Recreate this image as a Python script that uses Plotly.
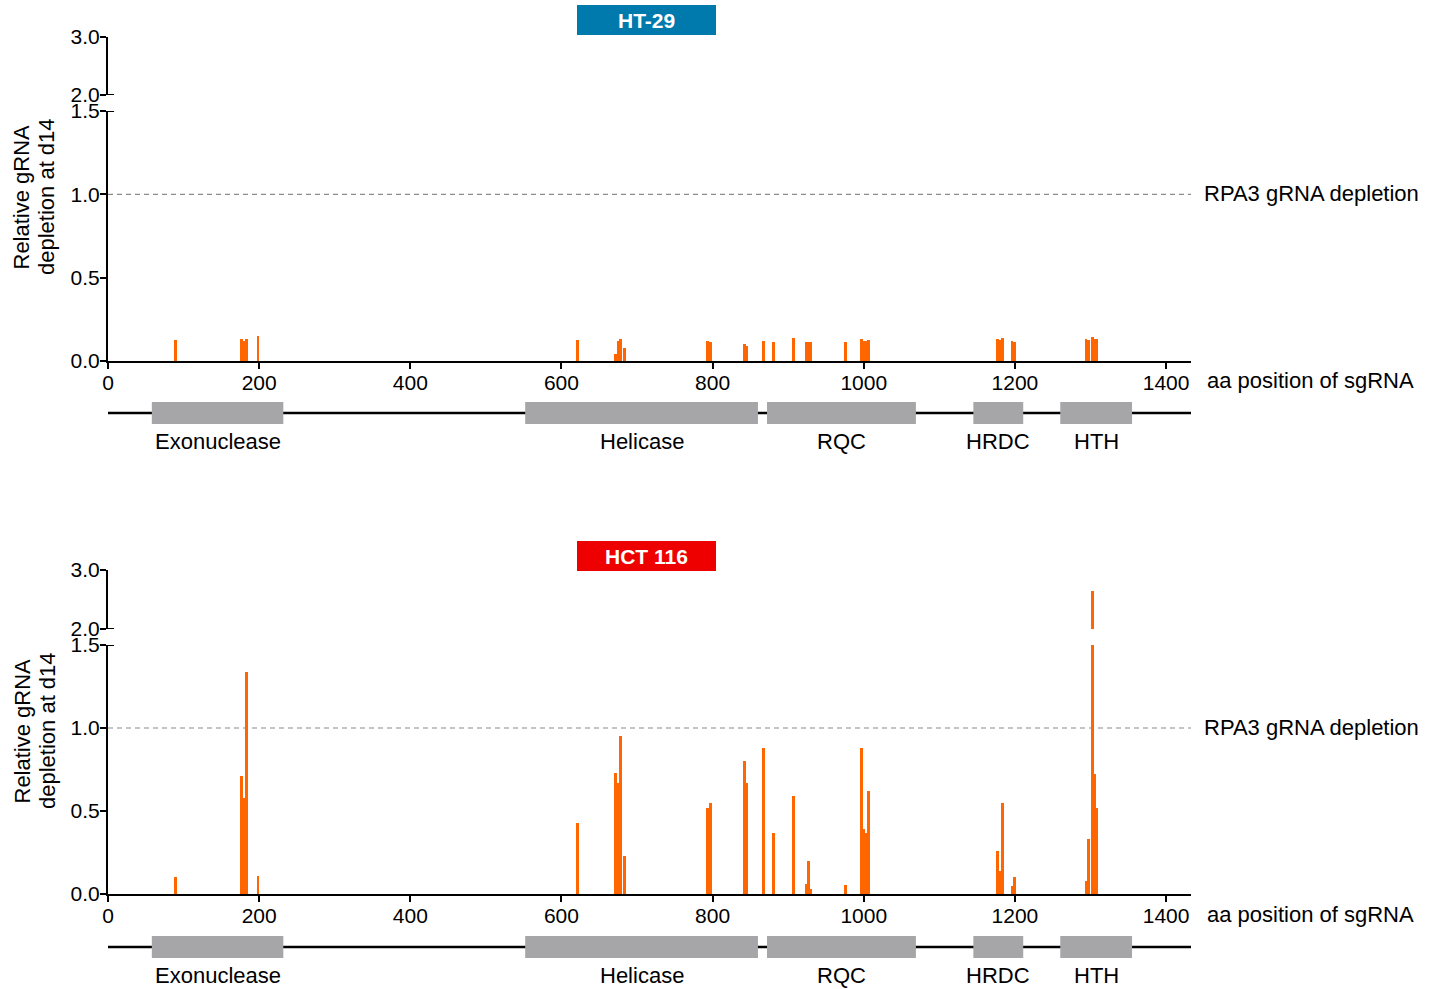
import plotly.graph_objects as go

W, H = 1438, 989

# ---------------- data ----------------
positions = [89, 176.4, 180, 183.3, 198.5, 621.3, 671.6, 674.9, 678.2, 683.5,
             793.3, 797.3, 842.3, 845.6, 867.4, 880.6, 907, 923.6, 926.9, 930.2,
             975.9, 997, 1000.4, 1003, 1006.3, 1177, 1180.4, 1183.7, 1196.2, 1199.5,
             1294, 1297.5, 1302.8, 1306.1, 1308.7]
ht29 = [0.126, 0.13, 0.12, 0.13, 0.15, 0.126, 0.04, 0.12, 0.13, 0.08,
        0.12, 0.115, 0.10, 0.09, 0.12, 0.115, 0.14, 0.115, 0.115, 0.115,
        0.115, 0.13, 0.12, 0.12, 0.125, 0.13, 0.125, 0.14, 0.12, 0.115,
        0.13, 0.125, 0.145, 0.13, 0.13]
hct116 = [0.10, 0.71, 0.58, 1.34, 0.11, 0.43, 0.73, 0.67, 0.95, 0.23,
          0.52, 0.55, 0.80, 0.67, 0.88, 0.37, 0.59, 0.06, 0.20, 0.03,
          0.055, 0.88, 0.39, 0.37, 0.62, 0.26, 0.14, 0.55, 0.05, 0.10,
          0.08, 0.33, 2.64, 0.72, 0.52]

domain_names = ["Exonuclease", "Helicase", "RQC", "HRDC", "HTH"]
domain_start = [58, 552, 872, 1145, 1260]
domain_end = [232, 860, 1069, 1211, 1355]

x_ticks = [0, 200, 400, 600, 800, 1000, 1200, 1400]
y_low_ticks = [0, 0.5, 1.0, 1.5]
y_high_ticks = [2.0, 3.0]
panels = ["HT-29", "HCT 116"]
panel_colors = ["#0079AD", "#EE0000"]
threshold = 1.0
x_max = 1433

# ---------------- helpers ----------------
def py(p):
    return 1 - p / H

def px(p):
    return p / W

FONT = "Liberation Sans, Arial, sans-serif"
BAR_COLOR = "#FF6600"
BAR_W = 3.5
LABEL_SIZE = 22
TICK_SIZE = 21

fig = go.Figure()

panel_geo = [
    dict(low=(111, 361), high=(37, 95), box=(5, 35), dline=413, dbox=(402, 424), dlab=441,
         xlab=381, rpa=193, ytitle=197),
    dict(low=(645, 894), high=(570, 629), box=(541, 571), dline=947, dbox=(936, 958), dlab=975,
         xlab=914, rpa=727, ytitle=731),
]
series = [ht29, hct116]

xdom = [px(108), px(1191)]
shapes = []
annotations = []
layout_axes = {}

for i, (g, vals) in enumerate(zip(panel_geo, series)):
    xa = "x" if i == 0 else "x2"
    xkey = "xaxis" if i == 0 else "xaxis2"
    ylow = "y" if i == 0 else "y3"
    yhigh = "y2" if i == 0 else "y4"
    ylowkey = "yaxis" if i == 0 else "yaxis3"
    yhighkey = "yaxis2" if i == 0 else "yaxis4"

    for ya in (ylow, yhigh):
        fig.add_trace(go.Bar(x=positions, y=vals, width=BAR_W, xaxis=xa, yaxis=ya,
                             marker=dict(color=BAR_COLOR, line=dict(width=0)),
                             showlegend=False, hoverinfo="x+y"))

    common = dict(showline=True, linecolor="black", linewidth=2, ticks="outside",
                  ticklen=6, tickwidth=2, tickcolor="black", showgrid=False,
                  zeroline=False, automargin=False, ticklabelstandoff=-4,
                  tickfont=dict(family=FONT, size=TICK_SIZE, color="black"))
    layout_axes[xkey] = dict(domain=xdom, range=[0, x_max], anchor=ylow,
                             tickvals=x_ticks, **common)
    layout_axes[ylowkey] = dict(domain=[py(g["low"][1]), py(g["low"][0])], range=[0, 1.5],
                                anchor=xa, tickvals=y_low_ticks,
                                ticktext=[f"{v:.1f}" for v in y_low_ticks], **common)
    layout_axes[yhighkey] = dict(domain=[py(g["high"][1]), py(g["high"][0])], range=[2.0, 3.0],
                                 anchor=xa, tickvals=y_high_ticks,
                                 ticktext=[f"{v:.1f}" for v in y_high_ticks], **common)

    # break marks
    shapes.append(dict(type="line", xref=xa, yref=yhigh, x0=0, x1=8, y0=2.0, y1=2.0,
                       line=dict(color="black", width=2)))
    shapes.append(dict(type="line", xref=xa, yref=ylow, x0=0, x1=8, y0=1.5, y1=1.5,
                       line=dict(color="black", width=2)))

    # threshold dashed line
    shapes.append(dict(type="line", xref=xa, yref=ylow, x0=0, x1=x_max, y0=threshold, y1=threshold,
                       line=dict(color="#8C8C8C", width=1.2, dash="5px,4px"), layer="below"))

    # title box
    shapes.append(dict(type="rect", xref="paper", yref="paper", x0=px(577), x1=px(716),
                       y0=py(g["box"][1]), y1=py(g["box"][0]), fillcolor=panel_colors[i],
                       line=dict(width=0)))
    annotations.append(dict(text=f"<b>{panels[i]}</b>", xref="paper", yref="paper",
                            x=px(646.5), y=py((g["box"][0] + g["box"][1]) / 2),
                            showarrow=False, font=dict(family=FONT, size=21, color="white"),
                            xanchor="center", yanchor="middle"))

    # domain diagram
    shapes.append(dict(type="line", xref=xa, yref="paper", x0=0, x1=x_max,
                       y0=py(g["dline"]), y1=py(g["dline"]), line=dict(color="black", width=2.5)))
    for name, s, e in zip(domain_names, domain_start, domain_end):
        shapes.append(dict(type="rect", xref=xa, yref="paper", x0=s, x1=e,
                           y0=py(g["dbox"][1]), y1=py(g["dbox"][0]), fillcolor="#A6A6A8",
                           line=dict(width=0)))
        annotations.append(dict(text=name, xref=xa, yref="paper", x=(s + e) / 2, y=py(g["dlab"]),
                                showarrow=False, xanchor="center", yanchor="middle",
                                font=dict(family=FONT, size=LABEL_SIZE, color="black")))

    # axis labels
    annotations.append(dict(text="aa position of sgRNA", xref="paper", yref="paper",
                            x=px(1205), y=py(g["xlab"]), xanchor="left", yanchor="middle",
                            showarrow=False, font=dict(family=FONT, size=LABEL_SIZE, color="black")))
    annotations.append(dict(text="RPA3 gRNA depletion", xref="paper", yref="paper",
                            x=px(1202), y=py(g["rpa"]), xanchor="left", yanchor="middle",
                            showarrow=False, font=dict(family=FONT, size=LABEL_SIZE, color="black")))
    for line_text, cx in (("Relative gRNA", 21.5), ("depletion at d14", 47)):
        annotations.append(dict(text=line_text, xref="paper", yref="paper",
                                x=px(cx), y=py(g["ytitle"]), xanchor="center", yanchor="middle",
                                textangle=-90, showarrow=False,
                                font=dict(family=FONT, size=LABEL_SIZE, color="black")))

fig.update_layout(width=W, height=H, margin=dict(l=0, r=0, t=0, b=0, pad=0),
                  paper_bgcolor="white", plot_bgcolor="white", showlegend=False,
                  bargap=0, shapes=shapes, annotations=annotations, **layout_axes)

fig.write_html("out.html")
